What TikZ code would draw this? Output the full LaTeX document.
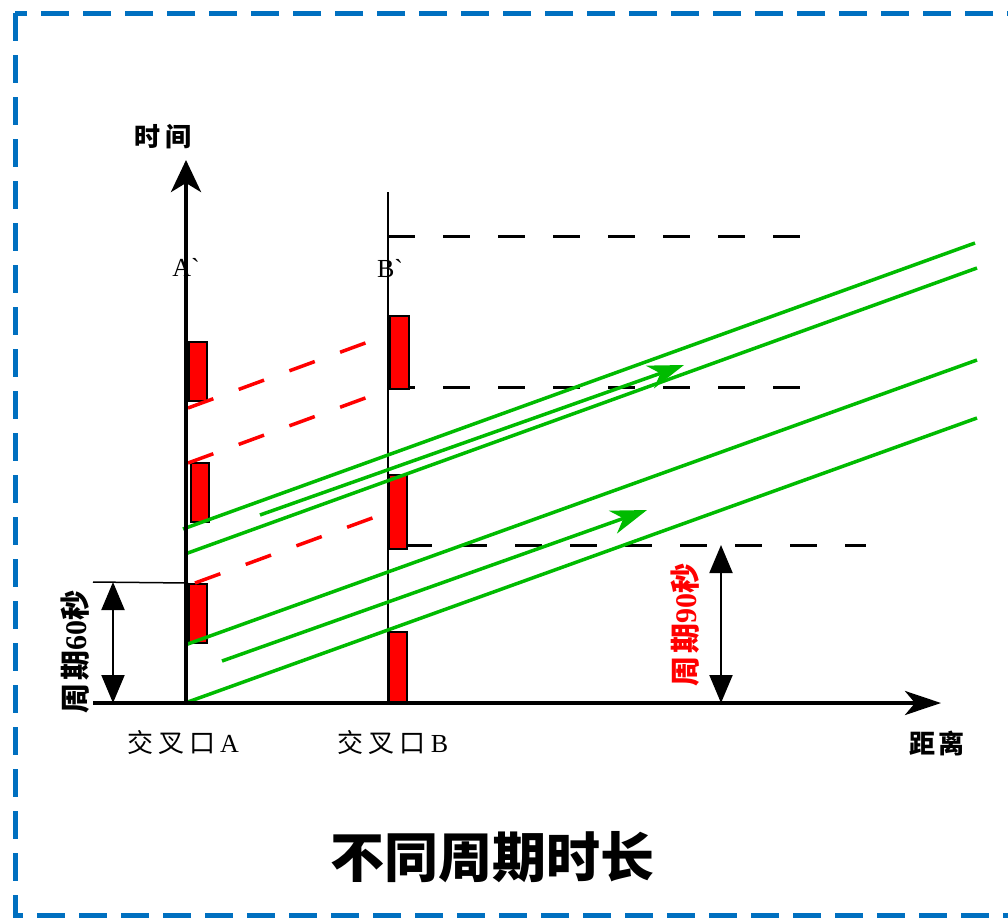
\documentclass[tikz,border=0pt]{standalone}
\usepackage{fontspec}
\setmainfont{Liberation Serif}
\newfontfamily\cjk{Noto Sans CJK SC}
\usetikzlibrary{arrows.meta}
\definecolor{frameblue}{HTML}{0070C0}
\definecolor{grn}{HTML}{00BB00}
\newcommand{\mygrv}{\XeTeXglyph\XeTeXglyphindex "grave"\relax}
\newcommand{\mysp}{\hspace{5pt}}
\tikzset{
  axis/.style={line width=4pt},
  redbox/.style={draw=black,line width=1.8pt,fill=red},
  reddash/.style={red,line width=3.5pt,dash pattern=on 27pt off 27pt},
  blackdash/.style={black,line width=3pt,dash pattern=on 27pt off 28pt},
  grline/.style={grn,line width=3.5pt},
  dimarrow/.style={line width=2pt,{Triangle[length=28pt,width=23pt]}-{Triangle[length=28pt,width=23pt]}},
  lbl/.style={inner sep=0pt,font=\cjk\bfseries\fontsize{26}{26}\selectfont},
  rotlbl/.style={inner sep=0pt,rotate=90,font=\cjk\bfseries\fontsize{30}{30}\selectfont},
}
\begin{document}
\begin{tikzpicture}[x=1pt,y=-1pt]
\clip (0,0) rectangle (1008,919);
\useasboundingbox (0,0) rectangle (1008,919);
\fill[white] (0,0) rectangle (1008,919);
% frame
\draw[frameblue,line width=5pt,dash pattern=on 28pt off 14pt] (15,13) rectangle (1030,915);
% coordinates
\coordinate (O) at (186,703);
\coordinate (Ytop) at (186,160);
\coordinate (Xl) at (93,703);
\coordinate (Xr) at (941,703);
\coordinate (Bb) at (388,703);
\coordinate (Bt) at (388,192);
% B line
\draw[line width=2pt] (Bb) -- (Bt);
% black dashed
\coordinate (d1a) at (388,236); \coordinate (d1b) at (810,236);
\coordinate (d2a) at (388,387); \coordinate (d2b) at (810,387);
\coordinate (d3a) at (405,545); \coordinate (d3b) at (866,545);
\draw[blackdash] (d1a) -- (d1b);
\draw[blackdash] (d2a) -- (d2b);
\draw[blackdash] (d3a) -- (d3b);
% red boxes at A
\node[redbox,minimum width=18pt,minimum height=59pt,inner sep=0pt,anchor=north west] (ra1) at (188,341) {};
\node[redbox,minimum width=18pt,minimum height=59pt,inner sep=0pt,anchor=north west] (ra2) at (190,462) {};
\node[redbox,minimum width=18pt,minimum height=59pt,inner sep=0pt,anchor=north west] (ra3) at (188,583) {};
% red boxes at B
\node[redbox,minimum width=19pt,minimum height=73pt,inner sep=0pt,anchor=north west] (rb1) at (389,315) {};
\node[redbox,minimum width=18pt,minimum height=74pt,inner sep=0pt,anchor=north west] (rb2) at (388,474) {};
\node[redbox,minimum width=18pt,minimum height=72pt,inner sep=0pt,anchor=north west] (rb3) at (388,631) {};
% red dashed
\coordinate (r1a) at (188,408); \coordinate (r1b) at (368,342);
\coordinate (r2a) at (188,463); \coordinate (r2b) at (368,397);
\coordinate (r3a) at (195,583); \coordinate (r3b) at (375,517);
\draw[reddash] (r1a) -- (r1b);
\draw[reddash] (r2a) -- (r2b);
\draw[reddash] (r3a) -- (r3b);
% green lines
\coordinate (g1a) at (183,529); \coordinate (g1b) at (975,243);
\coordinate (g2a) at (260,515); \coordinate (g2b) at (684,365);
\coordinate (g3a) at (185,554); \coordinate (g3b) at (977,268);
\coordinate (g4a) at (185,645); \coordinate (g4b) at (977,360);
\coordinate (g5a) at (222,661); \coordinate (g5b) at (647,510);
\coordinate (g6a) at (185,703); \coordinate (g6b) at (977,418);
\draw[grline] (g1a) -- (g1b);
\draw[grline,-{Stealth[length=36pt,width=24pt,inset=11pt]}] (g2a) -- (g2b);
\draw[grline] (g3a) -- (g3b);
\draw[grline] (g4a) -- (g4b);
\draw[grline,-{Stealth[length=36pt,width=24pt,inset=11pt]}] (g5a) -- (g5b);
\draw[grline] (g6a) -- (g6b);
% axes
\draw[axis,-{Stealth[length=32pt,width=30pt,inset=9pt]}] (O) -- (Ytop);
\draw[axis,-{Stealth[length=36pt,width=24pt,inset=10pt]}] (Xl) -- (Xr);
% 60s marker
\coordinate (t60l) at (93,582); \coordinate (t60r) at (188,583);
\draw[line width=1.5pt] (t60l) -- (t60r);
\coordinate (a60t) at (113,582); \coordinate (a60b) at (113,703);
\draw[dimarrow] (a60t) -- (a60b);
\node[rotlbl] (l60) at (75,652) {周\hspace{3pt}期{\rmfamily\bfseries 60}秒};
% 90s marker
\coordinate (a90t) at (721,545); \coordinate (a90b) at (721,703);
\draw[dimarrow] (a90t) -- (a90b);
\node[rotlbl,text=red] (l90) at (685,625) {周\hspace{3pt}期{\rmfamily\bfseries 90}秒};
% labels
\node[lbl] (tl) at (163,137) {时\hspace{6pt}间};
\node[inner sep=0pt,font=\fontsize{26}{26}\selectfont] (Ap) at (186,267) {A\mygrv};
\node[inner sep=0pt,font=\fontsize{26}{26}\selectfont] (Bp) at (390,268) {B\mygrv};
\node[lbl,font=\cjk\fontsize{26}{26}\selectfont] (ja) at (183,743) {交\mysp 叉\mysp 口\mysp{\rmfamily A}};
\node[lbl,font=\cjk\fontsize{26}{26}\selectfont] (jb) at (393,743) {交\mysp 叉\mysp 口\mysp{\rmfamily B}};
\node[lbl] (dist) at (937,743) {距\hspace{4pt}离};
\node[inner sep=0pt,font=\cjk\bfseries\fontsize{54}{54}\selectfont] (title) at (492,857) {不同周期时长};
\end{tikzpicture}
\end{document}
